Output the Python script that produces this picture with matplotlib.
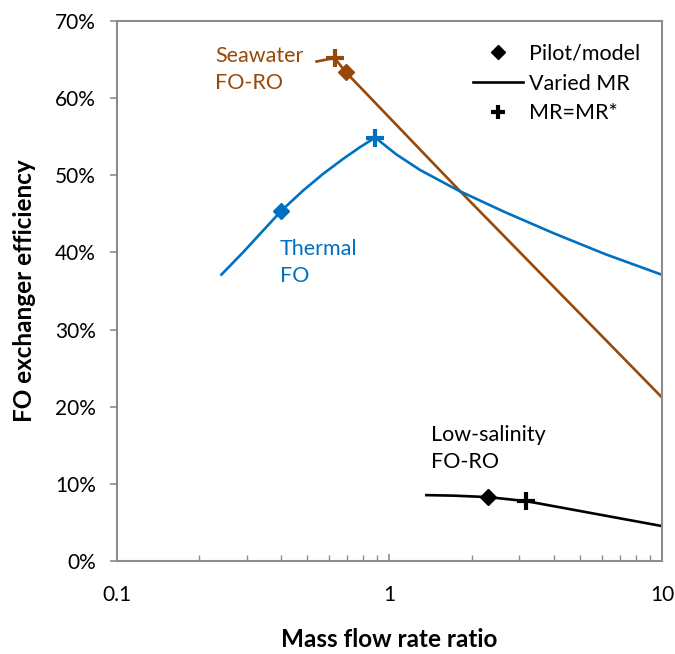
import numpy as np
import matplotlib.pyplot as plt
from matplotlib.lines import Line2D
from matplotlib.ticker import FixedLocator, NullFormatter, FuncFormatter

plt.rcParams['font.family'] = ['Lato', 'DejaVu Sans']

# Seawater FO-RO curve (varied mass flow rate ratio)
seaX = [0.540, 0.588, 0.629, 0.690, 1.775, 10.0]
seaY = [0.6475, 0.650, 0.652, 0.634, 0.483, 0.212]
seaPilot = (0.690, 0.634)
seaStar = (0.629, 0.652)

# Thermal FO curve
thermX = [0.2418, 0.2902, 0.3435, 0.4012, 0.4813, 0.5696, 0.6745, 0.7764, 0.8864,
          1.061, 1.293, 1.789, 2.631, 4.022, 6.168, 10.0]
thermY = [0.3713, 0.4001, 0.4282, 0.4541, 0.4800, 0.5016, 0.5210, 0.5360, 0.5489,
          0.5269, 0.5070, 0.4803, 0.4528, 0.4246, 0.3980, 0.3710]
thermPilot = (0.4012, 0.4541)
thermStar = (0.8864, 0.5489)

# Low-salinity FO-RO curve
lowX = [1.366, 1.73, 2.305, 3.176, 10.0]
lowY = [0.0854, 0.0847, 0.0828, 0.0776, 0.0453]
lowPilot = (2.305, 0.0828)
lowStar = (3.176, 0.0776)

brown = '#984807'
blue = '#0070C0'
black = '#000000'

fig = plt.figure(figsize=(6.75, 6.54), dpi=100)
ax = fig.add_axes([0.1733, 0.1422, 0.8074, 0.8257])

for xs, ys, pilot, star, col in [(seaX, seaY, seaPilot, seaStar, brown),
                                 (thermX, thermY, thermPilot, thermStar, blue),
                                 (lowX, lowY, lowPilot, lowStar, black)]:
    ax.plot(xs, ys, '-', color=col, lw=1.9, solid_joinstyle='round')
    ax.plot(*pilot, 'D', color=col, ms=8.5)
    ax.plot(*star, '+', color=col, ms=13, mew=3)

ax.set_xscale('log')
ax.set_xlim(0.1, 10)
ax.set_ylim(0, 0.7)
ax.set_yticks(np.arange(0, 0.71, 0.1))
ax.yaxis.set_major_formatter(FuncFormatter(lambda v, p: '%d%%' % round(v * 100)))
ax.xaxis.set_major_locator(FixedLocator([0.1, 1, 10]))
ax.xaxis.set_major_formatter(FuncFormatter(lambda v, p: '%g' % v))
ax.xaxis.set_minor_formatter(NullFormatter())

for s in ax.spines.values():
    s.set_color('#8C8C8C')
    s.set_linewidth(1.5)

ax.tick_params(axis='y', direction='out', length=5, width=1.2, color='#8C8C8C',
               labelsize=15, pad=10)
ax.tick_params(axis='x', which='both', direction='in', color='#8C8C8C',
               labelsize=15, pad=17)
ax.tick_params(axis='x', which='major', length=5, width=1.2)
ax.tick_params(axis='x', which='minor', length=4, width=1.0)

ax.set_xlabel('Mass flow rate ratio', fontsize=17.5, fontweight='bold', labelpad=17)
ax.set_ylabel('FO exchanger efficiency', fontsize=17.5, fontweight='bold', labelpad=14)

ax.text(0.2286, 0.668, 'Seawater\nFO-RO', color=brown, fontsize=15.5,
        ha='left', va='top', linespacing=1.45)
ax.text(0.395, 0.418, 'Thermal\nFO', color=blue, fontsize=15.5,
        ha='left', va='top', linespacing=1.45)
ax.text(1.425, 0.176, 'Low-salinity\nFO-RO', color=black, fontsize=15.5,
        ha='left', va='top', linespacing=1.45)

handles = [Line2D([], [], ls='none', marker='D', color=black, ms=7),
           Line2D([], [], ls='-', color=black, lw=1.9),
           Line2D([], [], ls='none', marker='+', color=black, ms=10, mew=3)]
fig.legend(handles, ['Pilot/model', 'Varied MR', 'MR=MR*'], loc='upper left',
           bbox_to_anchor=(473 / 675, 1 - 44 / 654), frameon=False, fontsize=15.5,
           handlelength=2.3, handletextpad=0.3, labelspacing=0.45,
           borderpad=0, borderaxespad=0)

fig.savefig('out.png', dpi=100)
